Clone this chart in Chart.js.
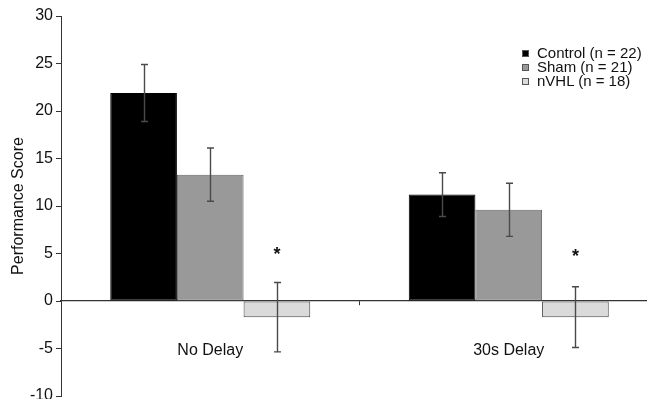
<!DOCTYPE html>
<html lang="en">
<head>
  <meta charset="UTF-8" />
  <title>Performance Score by Delay</title>
  <script src="https://cdn.jsdelivr.net/npm/chart.js"></script>
  <style>
    html, body {
      margin: 0;
      padding: 0;
      background: #fff;
      overflow: hidden;
      font-family: 'Liberation Sans', Arial, sans-serif;
    }

    .chart-box {
      position: absolute;
      left: 0;
      top: 0;
      width: 658px;
      height: 410px;
    }

    .legend {
      position: absolute;
      left: 522px;
      top: 46px;
      font-size: 15px;
      color: #111;
      line-height: 14px;
    }

    .legend div {
      display: flex;
      align-items: center;
      white-space: nowrap;
    }

    .legend span.box {
      display: inline-block;
      width: 5px;
      height: 5px;
      margin-right: 8px;
      border: 1px solid #555;
    }
  </style>
</head>
<body>

  <div class="chart-box">
    <canvas id="scoreChart"></canvas>
  </div>
  <div class="legend" id="legend"></div>

  <script>
    const categories = ['No Delay', '30s Delay'];
    const groups = ['Control (n = 22)', 'Sham (n = 21)', 'nVHL (n = 18)'];

    const controlScores = [21.9, 11.2];
    const shamScores = [13.3, 9.6];
    const nvhlScores = [-1.7, -1.7];

    const controlErr = [3.0, 2.3];
    const shamErr = [2.8, 2.8];
    const nvhlErr = [3.65, 3.2];

    // significance markers above the nVHL bars
    const starValues = [5.2, 4.9];

    const yTicks = [-10, -5, 0, 5, 10, 15, 20, 25, 30];

    const fills = ['#000000', '#999999', '#dadada'];
    const borders = ['#000000', '#666666', '#444444'];

    const seriesValues = [controlScores, shamScores, nvhlScores];
    const seriesErr = [controlErr, shamErr, nvhlErr];

    const fontFamily = "'Liberation Sans', Arial, sans-serif";

    // legend
    const legend = document.getElementById('legend');
    groups.forEach((g, i) => {
      const row = document.createElement('div');
      row.innerHTML = '<span class="box" style="background:' + fills[i] + '"></span>' + g;
      legend.appendChild(row);
    });

    const errorBars = {
      id: 'errorBars',
      afterDatasetsDraw(chart) {
        const ctx = chart.ctx;
        const y = chart.scales.y;
        ctx.save();
        ctx.strokeStyle = '#4a4a4a';
        ctx.lineWidth = 1.4;
        chart.data.datasets.forEach((ds, di) => {
          const meta = chart.getDatasetMeta(di);
          meta.data.forEach((bar, i) => {
            const v = ds.data[i];
            const e = seriesErr[di][i];
            const top = y.getPixelForValue(v + e);
            const bot = y.getPixelForValue(v - e);
            const x = Math.round(bar.x) + 0.5;
            ctx.beginPath();
            ctx.moveTo(x, top);
            ctx.lineTo(x, bot);
            ctx.moveTo(x - 3.5, top);
            ctx.lineTo(x + 3.5, top);
            ctx.moveTo(x - 3.5, bot);
            ctx.lineTo(x + 3.5, bot);
            ctx.stroke();
          });
        });
        // stars over the nVHL bars
        const meta = chart.getDatasetMeta(2);
        ctx.fillStyle = '#111';
        ctx.font = 'bold 18px ' + fontFamily;
        ctx.textAlign = 'center';
        ctx.textBaseline = 'middle';
        meta.data.forEach((bar, i) => {
          ctx.fillText('*', bar.x, y.getPixelForValue(starValues[i]) + 3);
        });
        ctx.restore();
      }
    };

    const ctx = document.getElementById('scoreChart').getContext('2d');

    new Chart(ctx, {
      type: 'bar',
      data: {
        labels: categories,
        datasets: groups.map((g, i) => ({
          label: g,
          data: seriesValues[i],
          backgroundColor: fills[i],
          borderColor: borders[i],
          borderWidth: 1,
          borderSkipped: false,
          categoryPercentage: 0.67,
          barPercentage: 1.0
        }))
      },
      options: {
        responsive: true,
        maintainAspectRatio: false,
        animation: false,
        layout: {
          padding: { top: 16, bottom: 14, left: 0, right: 0 }
        },
        plugins: {
          legend: { display: false },
          tooltip: { enabled: false }
        },
        scales: {
          x: {
            position: { y: 0 },
            grid: {
              display: true,
              drawOnChartArea: false,
              drawTicks: true,
              tickLength: 4,
              offset: true,
              color: '#333'
            },
            border: { display: true, color: '#333', width: 1.2 },
            ticks: {
              color: '#111',
              padding: 36,
              font: { family: fontFamily, size: 16 }
            }
          },
          y: {
            min: -10,
            max: 30,
            afterBuildTicks(scale) {
              scale.ticks = yTicks.map(v => ({ value: v }));
            },
            afterFit(scale) {
              scale.width = 61;
            },
            grid: {
              drawOnChartArea: false,
              drawTicks: true,
              tickLength: 5,
              color: '#333'
            },
            border: { display: true, color: '#333', width: 1 },
            ticks: {
              color: '#111',
              padding: 3,
              font: { family: fontFamily, size: 16 }
            },
            title: {
              display: true,
              text: 'Performance Score',
              color: '#111',
              padding: { top: 9, bottom: 2 },
              font: { family: fontFamily, size: 16 }
            }
          }
        }
      },
      plugins: [errorBars]
    });
  </script>

</body>
</html>
